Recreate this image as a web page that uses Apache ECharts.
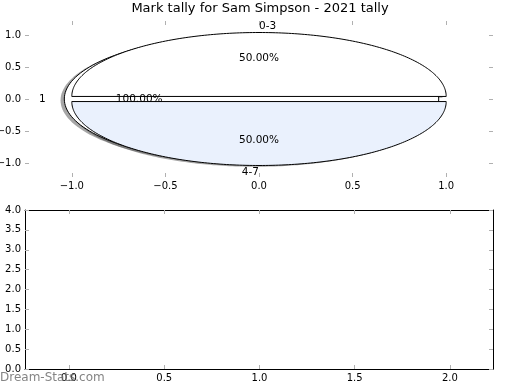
<!DOCTYPE html>
<html>
<head>
<meta charset="utf-8">
<script src="https://cdn.jsdelivr.net/npm/echarts@6/dist/echarts.min.js"></script>
<style>
html,body{margin:0;padding:0;background:#fff;}
#chart{width:520px;height:390px;}
</style>
</head>
<body>
<div id="chart"></div>
<script>
// ---- data ----
const chartTitle = 'Mark tally for Sam Simpson - 2021 tally';
const totalLabels = ['1'];
const totalValues = [1];
const sliceLabels = ['0-3', '4-7'];
const sliceValues = [1, 1];
const pieTicks = [-1, -0.5, 0, 0.5, 1];
const lowerXTicks = [0, 0.5, 1, 1.5, 2];
const lowerYTicks = [0, 0.5, 1, 1.5, 2, 2.5, 3, 3.5, 4];
const watermark = 'Dream-Stats.com';

// ---- styling ----
const totalColors = ['#ffffff'];
const sliceColors = ['#ffffff', '#eaf1fd'];
const explode = 0.04;
const labelDist = 1.1;
const pctDist = 0.6;
const FONT = 'DejaVu Sans';

function buildWedges(values, labels, colors) {
  const total = values.reduce((a, b) => a + b, 0);
  let start = 0;
  return values.map((v, i) => {
    const span = v / total * Math.PI * 2;
    const t1 = start, t2 = start + span;
    start = t2;
    const mid = (t1 + t2) / 2;
    return {
      t1, t2, full: span >= Math.PI * 2 - 1e-9,
      cx: explode * Math.cos(mid), cy: explode * Math.sin(mid),
      mid, color: colors[i], label: labels[i],
      pct: (v / total * 100).toFixed(2) + '%'
    };
  });
}
const wedges = buildWedges(totalValues, totalLabels, totalColors)
  .concat(buildWedges(sliceValues, sliceLabels, sliceColors));

function wedgePoints(api, w, dx, dy) {
  const pts = [];
  if (!w.full) pts.push(api.coord([w.cx + dx, w.cy + dy]));
  const n = 180;
  for (let k = 0; k <= n; k++) {
    const a = w.t1 + (w.t2 - w.t1) * k / n;
    pts.push(api.coord([w.cx + dx + Math.cos(a), w.cy + dy + Math.sin(a)]));
  }
  return pts;
}

const texts = [];
wedges.forEach(w => {
  const lx = w.cx + labelDist * Math.cos(w.mid);
  const ly = w.cy + labelDist * Math.sin(w.mid);
  texts.push({ x: lx, y: ly, text: w.label, align: lx > 0 ? 'left' : 'right' });
  texts.push({ x: w.cx + pctDist * Math.cos(w.mid), y: w.cy + pctDist * Math.sin(w.mid), text: w.pct, align: 'center' });
});

const fmt = v => (v < 0 ? '\u2212' : '') + Math.abs(v).toFixed(1);
const tickStyle = { show: true, inside: true, length: 4, lineStyle: { color: '#b0b0b0', width: 1 } };
const labStyle = { fontSize: 10, color: '#000', fontFamily: FONT, margin: 4, formatter: fmt };

function mkAxis(gi, pos, min, max, ticks, showLabel, showLine) {
  return {
    type: 'value', gridIndex: gi, position: pos, min, max,
    axisLine: { show: showLine, onZero: false, lineStyle: { color: '#000', width: 1 } },
    axisTick: Object.assign({ customValues: ticks }, tickStyle),
    axisLabel: Object.assign({ show: showLabel, customValues: ticks }, labStyle),
    splitLine: { show: false }
  };
}

const option = {
  animation: false,
  backgroundColor: '#fff',
  title: {
    text: chartTitle, left: 'center', top: 2, padding: 0,
    textStyle: { fontSize: 13, fontWeight: 'normal', color: '#000', fontFamily: FONT }
  },
  grid: [
    { left: 25, top: 21, width: 468, height: 156, containLabel: false, outerBoundsMode: 'none' },
    { left: 25, top: 210, width: 468, height: 159, containLabel: false, outerBoundsMode: 'none' }
  ],
  xAxis: [
    mkAxis(0, 'bottom', -1.25, 1.25, pieTicks, true, false),
    mkAxis(0, 'top', -1.25, 1.25, pieTicks, false, false),
    mkAxis(1, 'bottom', -0.231, 2.226, lowerXTicks, true, true),
    mkAxis(1, 'top', -0.231, 2.226, lowerXTicks, false, true)
  ],
  yAxis: [
    mkAxis(0, 'left', -1.22, 1.22, pieTicks, true, false),
    mkAxis(0, 'right', -1.22, 1.22, pieTicks, false, false),
    mkAxis(1, 'left', 0, 4, lowerYTicks, true, true),
    mkAxis(1, 'right', 0, 4, lowerYTicks, false, true)
  ],
  graphic: [{
    type: 'text', left: 0, top: 372, z: 100,
    style: { text: watermark, fontSize: 12, fontWeight: 'normal', fill: 'rgba(110,110,110,0.85)', fontFamily: FONT }
  }],
  series: [
    {
      type: 'custom', xAxisIndex: 0, yAxisIndex: 0, z: 1, clip: false,
      data: wedges.map((w, i) => [i]),
      renderItem: (params, api) => {
        const w = wedges[params.dataIndex];
        return { type: 'polygon', shape: { points: wedgePoints(api, w, -0.02, -0.02) },
          style: { fill: 'rgba(77,77,77,0.5)', stroke: null } };
      }
    },
    {
      type: 'custom', xAxisIndex: 0, yAxisIndex: 0, z: 2, clip: false,
      data: wedges.map((w, i) => [i]),
      renderItem: (params, api) => {
        const w = wedges[params.dataIndex];
        return { type: 'polygon', shape: { points: wedgePoints(api, w, 0, 0) },
          style: { fill: w.color, stroke: '#000', lineWidth: 1 } };
      }
    },
    {
      type: 'custom', xAxisIndex: 0, yAxisIndex: 0, z: 3, clip: false,
      data: texts.map(t => [t.x, t.y]),
      renderItem: (params, api) => {
        const t = texts[params.dataIndex];
        const p = api.coord([t.x, t.y]);
        return { type: 'text', x: p[0], y: p[1],
          style: { text: t.text, align: t.align, verticalAlign: 'middle', fontSize: 10.5, fill: '#000', fontFamily: FONT } };
      }
    }
  ]
};

const chart = echarts.init(document.getElementById('chart'), null, { renderer: 'canvas' });
chart.setOption(option);
</script>
</body>
</html>
